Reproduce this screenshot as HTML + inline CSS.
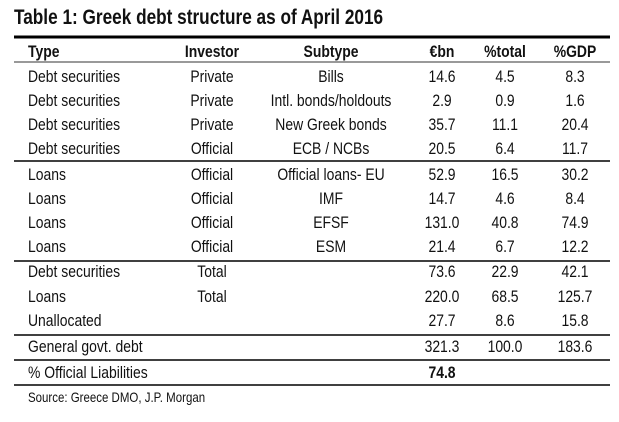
<!DOCTYPE html>
<html><head><meta charset="utf-8"><style>
body{margin:0;background:#fff;}
svg{display:block;font-family:"Liberation Sans",Arial,sans-serif;}
</style></head><body>
<svg id="t" width="619" height="422" viewBox="0 0 619 422"></svg>
<script>
const types=["Debt securities","Debt securities","Debt securities","Debt securities","Loans","Loans","Loans","Loans","Debt securities","Loans","Unallocated","General govt. debt","% Official Liabilities"];
const investors=["Private","Private","Private","Official","Official","Official","Official","Official","Total","Total","","",""];
const subtypes=["Bills","Intl. bonds/holdouts","New Greek bonds","ECB / NCBs","Official loans- EU","IMF","EFSF","ESM","","","","",""];
const bn=["14.6","2.9","35.7","20.5","52.9","14.7","131.0","21.4","73.6","220.0","27.7","321.3","74.8"];
const pctTotal=["4.5","0.9","11.1","6.4","16.5","4.6","40.8","6.7","22.9","68.5","8.6","100.0",""];
const pctGdp=["8.3","1.6","20.4","11.7","30.2","8.4","74.9","12.2","42.1","125.7","15.8","183.6",""];
const headers=["Type","Investor","Subtype","€bn","%total","%GDP"];
const svg=document.getElementById('t');const NS="http://www.w3.org/2000/svg";
function txt(s,x,y,anchor,size,weight,name){const t=document.createElementNS(NS,'text');


t.setAttribute('transform',`translate(${x},${y}) scale(0.82,1)`);t.setAttribute('text-anchor',anchor);t.setAttribute('font-size',size);if(weight)t.setAttribute('font-weight',weight);t.setAttribute('fill','#111');t.textContent=s;svg.appendChild(t);}
function line(y,w,name,col){const l=document.createElementNS(NS,'line');


l.setAttribute('x1',14);l.setAttribute('x2',610);l.setAttribute('y1',y);l.setAttribute('y2',y);l.setAttribute('stroke',col||'#000');l.setAttribute('stroke-width',w);svg.appendChild(l);}
txt("Table 1: Greek debt structure as of April 2016",14,24,'start',21,'bold','table-title');
line(37,3,'title-rule');
const cx=[28,212,331,442,505,575],anc=['start','middle','middle','middle','middle','middle'];
headers.forEach((h,i)=>txt(h,cx[i],57,anc[i],17,'bold','header-'+i));
line(62,1,'header-rule','#333');
const ys=[82,106,130,154,180,204,228,252,277,302,326,352,378];
ys.forEach((y,r)=>{const vals=[types[r],investors[r],subtypes[r],bn[r],pctTotal[r],pctGdp[r]];
vals.forEach((v,i)=>{if(v)txt(v,cx[i],y,anc[i],17,(r==12&&i==3)?'bold':null,'cell-r'+r+'-c'+i);});});
[161,261,335,360,385].forEach((y,i)=>line(y,1.5,'group-rule-'+i));
txt("Source: Greece DMO, J.P. Morgan",28,402,'start',14,null,'source-note');
</script>
</body></html>
